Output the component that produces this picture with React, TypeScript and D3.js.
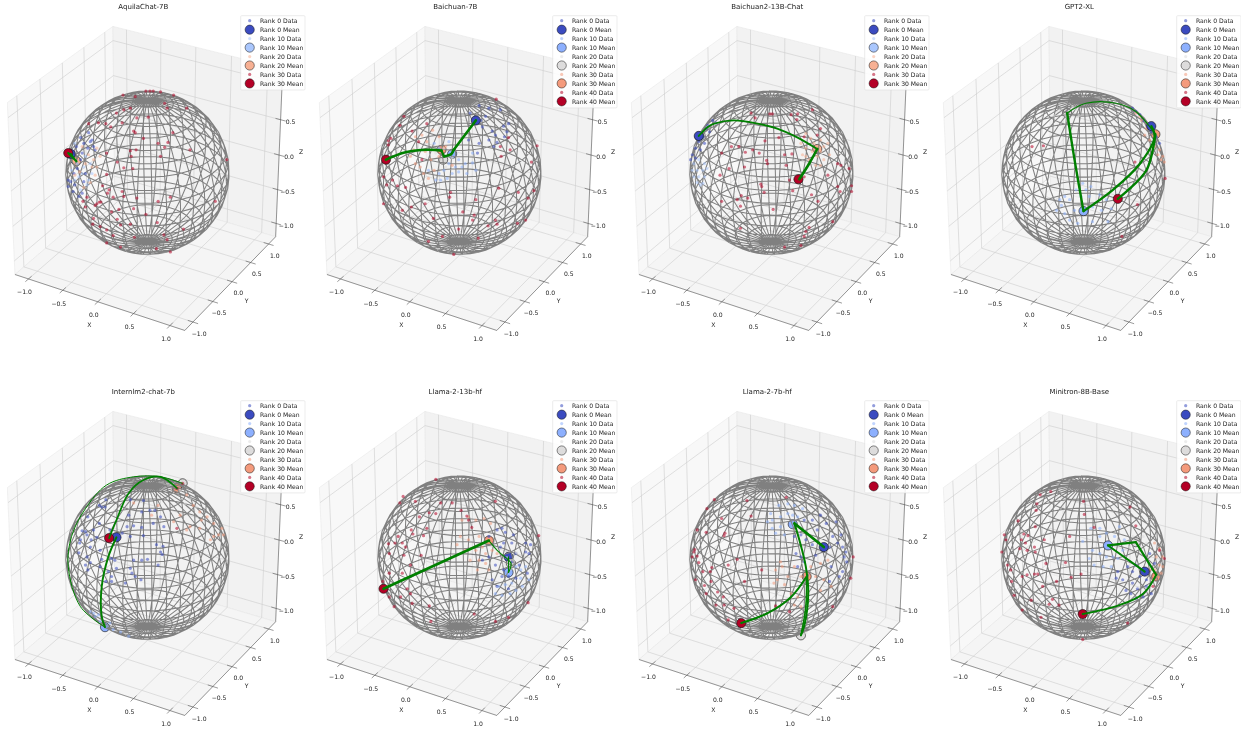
import React from "react";
import * as d3 from "d3";

type Pt = [number, number];

// Every point below: [right, up] on the sphere's disc, in percent of its radius.
const ranks4 = ["Rank 0", "Rank 10", "Rank 20", "Rank 30"];
const ranks5 = ["Rank 0", "Rank 10", "Rank 20", "Rank 30", "Rank 40"];
const colors4 = ["#3b4cc0", "#aac7fd", "#f7b093", "#b40426"];
const colors5 = ["#3b4cc0", "#8db0fe", "#dddcdc", "#f49a7b", "#b40426"];
const ticks = [-1, -0.5, 0, 0.5, 1];
const titles = ["AquilaChat-7B", "Baichuan-7B", "Baichuan2-13B-Chat", "GPT2-XL", "Internlm2-chat-7b", "Llama-2-13b-hf", "Llama-2-7b-hf", "Minitron-8B-Base"];

// AquilaChat-7B
const aquilaR0: Pt[] = [[-72,49],[-82,43],[-70,38],[-78,36],[-87,32],[-73,30],[-66,32],[-93,20],[-82,16],[-86,5],[-97,-9],[-94,-11],[-89,-15],[-78,-11],[-91,-23],[-80,-25],[-97,-17],[-84,-29],[-76,-1],[-68,40],[-64,28],[-90,-1],[-80,24]];
const aquilaR10: Pt[] = [[-89,36],[-76,20],[-70,11],[-86,11],[-80,-1],[-72,-9],[-84,-5],[-93,3],[-78,7],[-68,-1],[-89,-9],[-82,-21],[-74,-15]];
const aquilaR20: Pt[] = [[-62,30],[-66,16],[-72,22],[-64,-3],[-83,1],[-76,11],[-58,20],[-68,7],[-62,7],[-80,32],[-89,-3],[-70,-12],[-78,-18]];
const aquilaR30: Pt[] = [[-30,95],[-2,100],[3,100],[7,100],[16,99],[32,95],[-15,93],[21,85],[48,79],[24,79],[-21,79],[1,68],[-38,73],[-29,77],[-13,67],[-45,56],[-51,60],[-60,61],[-72,60],[-31,61],[-17,51],[-15,49],[-5,42],[31,49],[13,36],[21,31],[25,37],[52,28],[-50,24],[-21,27],[-14,28],[-20,20],[16,20],[-37,13],[-29,6],[-18,5],[97,16],[-50,-2],[-55,-16],[-47,-21],[-49,-25],[-31,-23],[-29,-29],[-42,-30],[-13,-31],[13,-35],[28,-30],[83,-35],[-62,-38],[-59,-36],[-57,-36],[-74,-30],[-79,-35],[-76,-42],[-64,-40],[-35,-45],[-17,-44],[-2,-51],[-44,-48],[-66,-56],[-37,-57],[-67,-63],[-58,-66],[-50,-70],[-33,-64],[-21,-63],[12,-61],[44,-69],[-42,-77],[-16,-79],[20,-76],[24,-82],[-50,-86],[-33,-91],[11,-93],[28,-97]];
const aquilaMeans: Pt[] = [[-94,23],[-89,16],[-87,14],[-97,24]];
const aquilaPath: Pt[][] = [[[-94,23],[-89,16],[-87,14],[-97,24]]];
const aquilaWidths = [2.2];
const aquilaBack = [1, 2];

// Baichuan-7B
const baichuan7R0: Pt[] = [[24,82],[36,79],[50,77],[13,73],[26,64],[28,56],[40,51],[54,57],[60,60],[58,50],[44,46],[36,40],[24,36],[46,37],[42,32],[55,44],[32,69],[22,24],[11,40]];
const baichuan7R10: Pt[] = [[-31,36],[-25,30],[-13,38],[-1,16],[7,11],[16,12],[9,-1],[3,7],[-5,7],[-13,11],[-19,3],[-25,-1],[-29,-9],[-23,-9],[-15,-7],[-1,1],[-9,-1],[-38,3],[16,24],[20,3]];
const baichuan7R20: Pt[] = [[-23,16],[-13,20],[-19,30],[-29,24],[-9,18],[-17,7]];
const baichuan7R30: Pt[] = [[-54,44],[-46,46],[-40,38],[-56,28],[-60,20],[-54,11],[-48,7],[-44,-1],[-38,-7],[-31,3],[-25,44],[-17,32],[-25,20],[-35,16],[-9,9],[-33,52],[-42,26]];
const baichuan7R40: Pt[] = [[45,90],[-68,69],[-58,51],[-40,60],[-73,58],[-84,42],[-87,39],[-87,34],[-50,38],[95,33],[88,13],[51,20],[62,28],[-93,-5],[-82,-9],[-89,-15],[-76,-16],[-66,-18],[-46,16],[-11,-24],[-12,-30],[20,-33],[48,-19],[72,-24],[91,-22],[84,-31],[-93,-38],[-59,-42],[-42,-38],[-32,-56],[4,-48],[18,-52],[16,-58],[-1,-69],[44,-58],[35,-65],[46,-63],[71,-62],[81,-58],[-21,-78],[23,-80],[-7,-100],[-38,-84],[-70,-46],[50,32],[60,43]];
const baichuan7Means: Pt[] = [[20,64],[-9,23],[-20,16],[-22,28],[-90,16]];
const baichuan7Path: Pt[][] = [[[20,64],[-7,28]],[[-7,28],[-10,23],[-19,20]],[[-19,20],[-22,27]],[[-22,27],[-38,28],[-66,25],[-90,16]]];
const baichuan7Widths = [2.6, 2.6, 2.4, 2.6];
const baichuan7Back = [1, 2, 3];

// Baichuan2-13B-Chat
const baichuan13R0: Pt[] = [[-72,64],[-80,54],[-76,50],[-84,44],[-89,38],[-82,36],[-93,30],[-87,28],[-97,22],[-99,16],[-93,18],[-68,61],[-78,58]];
const baichuan13R10: Pt[] = [[-95,11],[-89,16],[-82,11],[-97,3],[-91,3],[-84,3],[-79,5],[-95,-5],[-89,-5],[-82,-5],[-91,-12],[-84,-13],[-87,-15]];
const baichuan13R20: Pt[] = [[42,48],[48,42],[60,40],[64,32],[36,36],[42,30],[50,26],[56,20],[64,16],[71,22],[38,22],[46,16],[54,9],[60,9],[69,36],[60,26],[52,36],[42,20]];
const baichuan13R30: Pt[] = [[50,77],[32,72],[24,71],[-2,72],[1,72],[-25,73],[-20,67],[31,65],[60,54],[40,44],[56,46],[9,43],[-8,39],[-40,32],[-49,32],[-32,25],[-23,28],[-15,24],[-6,15],[-5,11],[16,22],[25,23],[18,9],[-33,7],[-52,5],[-61,24],[-63,-3],[40,-5],[22,-9],[26,-22],[49,-27],[57,-35],[69,-3],[81,11],[85,9],[95,5],[81,-17],[84,-23],[98,-16],[98,-23],[-13,-14],[-12,-17],[-9,-24],[-37,-28],[-29,-31],[-42,-33],[-38,-41],[-61,-35],[2,-45],[75,-60],[46,-67],[42,-72],[-38,-68],[40,-78],[16,-91],[36,-89]];
const baichuan13Means: Pt[] = [[-89,45],[-88,44],[56,29],[33,-8]];
const baichuan13Path: Pt[][] = [[[-89,45],[-78,56],[-70,60],[-46,64],[-17,60],[7,54],[32,43],[56,29]],[[56,29],[46,11],[34,-8]]];
const baichuan13Widths = [1.9, 2.6];
const baichuan13Back = [1, 2];

// GPT2-XL
const gptR0: Pt[] = [[60,79],[64,75],[73,64],[79,58],[83,50],[89,44],[93,36],[69,71]];
const gptR10: Pt[] = [[-1,-13],[9,-17],[-9,-21],[-23,-29],[-29,-33],[-17,-33],[-3,-29],[7,-29],[20,-27],[28,-33],[34,-44],[22,-46],[11,-42],[-11,-46],[-23,-50],[-33,-46],[-17,-58],[-7,-62],[11,-60],[30,-60],[-27,-40],[3,-21]];
const gptR20: Pt[] = [[-29,77],[-9,77],[-21,69],[-13,81],[-36,70],[-5,70]];
const gptR30: Pt[] = [[64,73],[71,64],[77,54],[75,46],[81,40],[87,32],[93,28],[97,20],[99,13],[91,22],[95,16],[69,69]];
const gptR40: Pt[] = [[-63,32],[-49,33],[63,13],[100,-7],[66,-39],[47,-78]];
const gptMeans: Pt[] = [[83,57],[0,-47],[-20,73],[88,47],[42,-32]];
const gptPath: Pt[][] = [[[83,57],[87,44],[69,11],[36,-21],[0,-47]],[[0,-47],[-11,16],[-20,73]],[[-20,73],[3,85],[40,85],[64,75],[88,47]],[[88,47],[77,3],[42,-32]]];
const gptWidths = [2.3, 2.4, 1.2, 2.4];
const gptBack = [2, 3];

// Internlm2-chat-7b
const internR0: Pt[] = [[-59,64],[-51,71],[-56,62],[-52,62],[-73,50],[-59,42],[-66,34],[-80,33],[-76,32],[-74,28],[-82,22],[-62,25],[-69,22],[-70,13],[-83,18],[-58,9],[-84,6],[-74,1],[-70,-6],[-76,-9],[-73,-15],[-56,-2],[-44,-1],[-40,-3],[-58,-11],[-48,-17],[-38,-13],[-44,-23],[-51,-29],[-44,-29],[-27,-31],[-21,-13],[-19,-19],[-15,-23],[-8,-27],[-17,-3],[-7,-3],[0,-2],[11,16],[19,14],[16,7],[18,4],[13,-9],[-21,71],[-5,70],[-7,56],[3,58],[9,58],[16,50],[20,38],[7,42],[-7,37],[-17,39],[-23,52],[-25,38],[-21,26],[-5,27],[-31,30],[-46,34]];
const internR10: Pt[] = [[-70,-66],[-64,-72],[-58,-78],[-50,-84],[-42,-88],[-33,-91],[-23,-96],[-60,-70],[-66,-68],[-46,-80]];
const internR20: Pt[] = [[40,82],[52,72],[30,90],[46,66],[60,62]];
const internR30: Pt[] = [[48,77],[56,64],[64,56],[73,50],[81,42],[91,36],[93,28],[87,28],[77,22],[66,46],[40,52],[32,44],[48,34],[13,64],[-17,67],[5,52],[64,36],[81,26],[52,38]];
const internR40: Pt[] = [[36,36],[36,85],[43,91]];
const internMeans: Pt[] = [[-38,25],[-52,-85],[43,91],[36,85],[-47,24]];
const internPath: Pt[][] = [[[-38,25],[-48,1],[-56,-35],[-56,-72],[-52,-85]],[[-52,-85],[-82,-60],[-97,-11],[-93,26],[-76,60],[-50,89],[-17,99],[16,99],[43,91]],[[36,85],[16,99],[-5,95],[-23,79],[-38,46],[-47,24]]];
const internWidths = [1.9, 1, 1.7];
const internBack = [1, 2, 3];

// Llama-2-13b-hf
const llama13R0: Pt[] = [[36,26],[46,34],[56,31],[66,28],[81,18],[87,16],[64,18],[54,18],[50,13],[58,3],[69,5],[81,7],[85,5],[64,-5],[73,-9],[36,1],[28,-3],[44,-9],[54,-15],[40,-27],[52,-23],[60,-23],[69,-25],[83,-19],[60,-38],[46,-35],[52,36]];
const llama13R10: Pt[] = [[48,-35],[56,-33],[64,-31],[75,-25],[81,-11],[75,-15],[44,-44],[52,-46],[69,-40],[77,-35],[62,-44],[69,-11],[85,-27]];
const llama13R20: Pt[] = [[58,0],[66,-3],[54,-8],[62,-14],[70,6]];
const llama13R30: Pt[] = [[3,46],[11,50],[20,46],[30,48],[38,42],[1,26],[-3,16],[7,9],[11,22],[24,26],[28,13],[20,9],[24,-3],[32,5],[40,9],[13,-3],[22,-15],[32,-7],[36,-15],[46,5]];
const llama13R40: Pt[] = [[-29,96],[-69,75],[-73,67],[-54,69],[-23,67],[-9,67],[2,58],[44,69],[-37,55],[-29,54],[-49,50],[-59,34],[-40,36],[-44,27],[-57,29],[-75,26],[-70,18],[-87,17],[-79,18],[-66,13],[-68,3],[-86,5],[-47,3],[-60,-9],[-94,-29],[-95,-35],[-86,-48],[-80,-60],[-72,-48],[-58,-56],[-64,-38],[-60,-44],[-37,-59],[-35,-78],[18,-69],[44,-78],[60,-73],[11,46],[15,37],[9,51],[97,27],[84,-55],[-70,-19],[-86,-19]];
const llama13Means: Pt[] = [[60,1],[60,-18],[63,-7],[36,21],[-93,-38]];
const llama13Path: Pt[][] = [[[60,1],[60,-18]],[[60,-18],[63,-7],[48,7],[36,21]],[[36,21],[-93,-38]]];
const llama13Widths = [1.1, 1.1, 2.7];
const llama13Back = [0, 1, 2, 3];

// Llama-2-7b-hf
const llama7R0: Pt[] = [[79,44],[67,42],[60,52],[50,46],[40,46],[56,34],[75,26],[85,28],[81,18],[71,13],[87,13],[91,7],[89,1],[92,-5],[28,26],[36,28],[30,5],[42,22],[36,1],[50,16],[54,3],[32,-11],[40,-5],[71,-29],[83,-23],[87,-17],[73,-11]];
const llama7R10: Pt[] = [[-1,54],[9,64],[20,66],[28,64],[38,60],[-5,44],[1,46],[11,50],[20,54],[26,52],[1,36],[11,38],[16,28],[5,30],[24,38],[32,50]];
const llama7R20: Pt[] = [[30,-90],[42,-92],[36,-84],[24,-86],[48,-86]];
const llama7R30: Pt[] = [[11,-5],[5,-15],[13,-11],[20,-23],[7,-27],[16,-33],[28,-11],[36,-23],[48,-11],[60,-7],[69,-3],[54,-23],[64,-27],[60,-40],[44,-44],[32,-48],[24,-44],[36,-60],[28,-58],[73,-35],[3,-31]];
const llama7R40: Pt[] = [[-70,71],[-79,60],[-61,48],[-57,30],[-58,27],[-30,70],[-25,51],[18,74],[-91,34],[-80,31],[-94,10],[-95,7],[-91,2],[-89,-6],[-84,-17],[-73,-12],[-75,-17],[-53,-9],[-42,-2],[-12,-15],[-33,-29],[-93,-27],[-82,-34],[-80,-44],[-74,-29],[-66,-42],[-59,-48],[-46,-62],[-58,-58],[-68,-58],[-53,-76],[5,-59],[22,-66],[100,1],[97,-25],[75,-60],[-97,1]];
const llama7Means: Pt[] = [[64,13],[26,41],[36,-95],[43,-23],[-37,-80]];
const llama7Path: Pt[][] = [[[64,13],[28,42]],[[28,42],[34,22],[42,-11],[45,-44],[40,-84],[36,-95]],[[36,-95],[42,-60],[43,-23]],[[43,-23],[24,-48],[-5,-68],[-37,-80]]];
const llama7Widths = [2.6, 2, 1.6, 2];
const llama7Back = [1, 2, 3];

// Minitron-8B-Base
const minitronR0: Pt[] = [[42,-17],[54,-11],[60,-17],[69,-23],[48,-27],[40,-25],[60,-31],[66,-38],[52,-40],[77,-35],[83,-44],[73,-48],[58,-44],[64,-50],[77,-27],[87,-7],[64,-9],[81,5]];
const minitronR10: Pt[] = [[-1,20],[9,36],[20,36],[44,38],[28,30],[38,26],[11,9],[7,-1],[20,5],[28,1],[36,1],[13,-9],[24,-11],[34,-11],[42,-1],[48,9],[20,26],[50,22]];
const minitronR20: Pt[] = [[60,26],[69,13],[73,26],[56,13],[77,18]];
const minitronR30: Pt[] = [[87,18],[93,11],[89,1],[97,1],[93,-9],[87,-15],[97,-11],[85,-27],[91,-23],[81,-15],[95,-19]];
const minitronR40: Pt[] = [[-53,77],[-40,81],[0,69],[57,62],[-57,66],[-58,58],[-80,45],[1,53],[64,39],[-59,38],[-48,22],[-17,26],[-73,29],[-68,27],[-76,22],[-97,28],[-95,22],[-71,18],[-78,11],[-69,9],[-60,13],[-59,7],[-100,7],[-46,-7],[-22,-6],[-93,-9],[-89,-15],[-60,-20],[-56,-20],[-88,-29],[-69,-21],[-75,-23],[-50,-35],[-33,-29],[-15,-24],[-3,-20],[-85,-46],[-64,-52],[-38,-51],[-42,-57],[-30,-58],[-75,-64],[-52,-73],[54,-80],[-1,-100],[13,37],[93,9],[99,-1],[85,-35]];
const minitronMeans: Pt[] = [[75,-17],[30,15],[64,19],[89,-23],[-1,-69]];
const minitronPath: Pt[][] = [[[75,-17],[30,15]],[[30,15],[64,19]],[[64,19],[89,-21]],[[89,-21],[73,-44],[44,-58],[-1,-69]]];
const minitronWidths = [2, 2.2, 2.2, 2];
const minitronBack = [2, 3];

const panels = [
  { title: titles[0], ranks: ranks4, colors: colors4, data: [aquilaR0, aquilaR10, aquilaR20, aquilaR30], means: aquilaMeans, path: aquilaPath, widths: aquilaWidths, back: aquilaBack },
  { title: titles[1], ranks: ranks5, colors: colors5, data: [baichuan7R0, baichuan7R10, baichuan7R20, baichuan7R30, baichuan7R40], means: baichuan7Means, path: baichuan7Path, widths: baichuan7Widths, back: baichuan7Back },
  { title: titles[2], ranks: ranks4, colors: colors4, data: [baichuan13R0, baichuan13R10, baichuan13R20, baichuan13R30], means: baichuan13Means, path: baichuan13Path, widths: baichuan13Widths, back: baichuan13Back },
  { title: titles[3], ranks: ranks5, colors: colors5, data: [gptR0, gptR10, gptR20, gptR30, gptR40], means: gptMeans, path: gptPath, widths: gptWidths, back: gptBack },
  { title: titles[4], ranks: ranks5, colors: colors5, data: [internR0, internR10, internR20, internR30, internR40], means: internMeans, path: internPath, widths: internWidths, back: internBack },
  { title: titles[5], ranks: ranks5, colors: colors5, data: [llama13R0, llama13R10, llama13R20, llama13R30, llama13R40], means: llama13Means, path: llama13Path, widths: llama13Widths, back: llama13Back },
  { title: titles[6], ranks: ranks5, colors: colors5, data: [llama7R0, llama7R10, llama7R20, llama7R30, llama7R40], means: llama7Means, path: llama7Path, widths: llama7Widths, back: llama7Back },
  { title: titles[7], ranks: ranks5, colors: colors5, data: [minitronR0, minitronR10, minitronR20, minitronR30, minitronR40], means: minitronMeans, path: minitronPath, widths: minitronWidths, back: minitronBack },
];

// Camera of a default matplotlib 3D axes: elev 30, azim -60, equal box, limits +-1.2
const LIM = 1.2, HALF = 0.55, DIST = 10, SCALE = 1782;
const elev = (30 * Math.PI) / 180, azim = (-60 * Math.PI) / 180;
const U = [-Math.sin(azim), Math.cos(azim), 0];
const V = [-Math.sin(elev) * Math.cos(azim), -Math.sin(elev) * Math.sin(azim), Math.cos(elev)];
const W = [Math.cos(elev) * Math.cos(azim), Math.cos(elev) * Math.sin(azim), Math.sin(elev)];
const CX = 147.5, CY = 172.7, RADIUS = 81.7;
const sx = d3.scaleLinear().domain([0, 1]).range([CX, CX + SCALE]);
const sy = d3.scaleLinear().domain([0, 1]).range([CY, CY - SCALE]);
const world = d3.scaleLinear().domain([-LIM, LIM]).range([-HALF, HALF]);
const dot = (a: number[], b: number[]) => a[0] * b[0] + a[1] * b[1] + a[2] * b[2];
const project = (x: number, y: number, z: number): Pt => {
  const p = [world(x), world(y), world(z)];
  const d = DIST - dot(p, W);
  return [sx(dot(p, U) / d), sy(dot(p, V) / d)];
};
const discX = d3.scaleLinear().domain([-100, 100]).range([CX - RADIUS, CX + RADIUS]);
const discY = d3.scaleLinear().domain([-100, 100]).range([CY + RADIUS, CY - RADIUS]);

const straight = d3.line<Pt>();
const arc = d3.line<Pt>().x((d) => discX(d[0])).y((d) => discY(d[1])).curve(d3.curveCatmullRom.alpha(0.5));
const poly = (pts: number[][]) => straight(pts.map((p) => project(p[0], p[1], p[2])))!;

// Wireframe sphere
const MERIDIANS = 36, PARALLELS = 20;
const lonSteps = d3.range(MERIDIANS + 1).map((i) => (i * 2 * Math.PI) / MERIDIANS + Math.PI / 60);
const latSteps = d3.range(PARALLELS + 1).map((i) => (i * Math.PI) / PARALLELS);
const wirePath = [
  ...lonSteps.map((lo) => poly(latSteps.map((v) => [Math.cos(lo) * Math.sin(v), Math.sin(lo) * Math.sin(v), Math.cos(v)]))),
  ...latSteps.slice(1, -1).map((v) => poly(lonSteps.map((lo) => [Math.cos(lo) * Math.sin(v), Math.sin(lo) * Math.sin(v), Math.cos(v)]))),
].join("");

const fmt = (t: number) => (t < 0 ? "\u2212" : "") + Math.abs(t).toFixed(1);
const FONT = "'DejaVu Sans', sans-serif";
const TXT = "#222";
const TICK = 0.07;
const POINT_R = 1.6;

const Axes3D = () => (
  <g>
    <path d={poly([[-LIM,-LIM,-LIM],[-LIM,LIM,-LIM],[-LIM,LIM,LIM],[-LIM,-LIM,LIM]]) + "Z"} fill="#f8f8f8" stroke="#e4e4e4" strokeWidth={0.5} />
    <path d={poly([[-LIM,LIM,-LIM],[LIM,LIM,-LIM],[LIM,LIM,LIM],[-LIM,LIM,LIM]]) + "Z"} fill="#f2f2f2" stroke="#e4e4e4" strokeWidth={0.5} />
    <path d={poly([[-LIM,-LIM,-LIM],[LIM,-LIM,-LIM],[LIM,LIM,-LIM],[-LIM,LIM,-LIM]]) + "Z"} fill="#f5f5f5" stroke="#e4e4e4" strokeWidth={0.5} />
    <g fill="none" stroke="#cdcdcd" strokeWidth={0.6}>
      {ticks.map((t) => (
        <g key={t}>
          <path d={poly([[t,-LIM,-LIM],[t,LIM,-LIM],[t,LIM,LIM]])} />
          <path d={poly([[LIM,t,-LIM],[-LIM,t,-LIM],[-LIM,t,LIM]])} />
          <path d={poly([[-LIM,-LIM,t],[-LIM,LIM,t],[LIM,LIM,t]])} />
        </g>
      ))}
    </g>
    <g fill="none" stroke="#555" strokeWidth={0.6}>
      <path d={poly([[-LIM,-LIM,-LIM],[LIM,-LIM,-LIM],[LIM,LIM,-LIM],[LIM,LIM,LIM]])} />
      {ticks.map((t) => (
        <g key={t}>
          <path d={poly([[t,-LIM-TICK,-LIM],[t,-LIM+TICK,-LIM]])} />
          <path d={poly([[LIM+TICK,t,-LIM],[LIM-TICK,t,-LIM]])} />
          <path d={poly([[LIM+TICK,LIM,t],[LIM-TICK,LIM,t]])} />
        </g>
      ))}
    </g>
    <g fontFamily={FONT} fontSize={6.1} fill={TXT} textAnchor="middle" dominantBaseline="central">
      {ticks.map((t) => {
        const a = project(t, -LIM, -LIM), b = project(LIM, t, -LIM), c = project(LIM, LIM, t);
        return (
          <g key={t}>
            <text x={a[0] - 4} y={a[1] + 13}>{fmt(t)}</text>
            <text x={b[0] + 6.2} y={b[1] + 11}>{fmt(t)}</text>
            {t < 1 && <text x={c[0] + 10} y={c[1] + 1.8}>{fmt(t)}</text>}
          </g>
        );
      })}
      <text x={89.3} y={324.3}>X</text>
      <text x={246.7} y={300}>Y</text>
      <text x={301} y={151.7}>Z</text>
    </g>
  </g>
);

const Legend = ({ ranks, colors }: { ranks: string[]; colors: string[] }) => {
  const rows = ranks.flatMap((r, i) => [
    { label: r + " Data", color: colors[i], mean: false },
    { label: r + " Mean", color: colors[i], mean: true },
  ]);
  const row = d3.scaleLinear().domain([0, 1]).range([20.7, 29.66]);
  return (
    <g>
      <rect x={240.7} y={15.7} width={64.3} height={rows.length * 8.96 + 2.6} rx={1} fill="#fff" fillOpacity={0.85} stroke="#d8d8d8" strokeWidth={0.5} />
      {rows.map((d, i) => (
        <g key={d.label}>
          {d.mean
            ? <circle cx={249.7} cy={row(i)} r={4.6} fill={d.color} stroke="#111" strokeWidth={0.5} />
            : <circle cx={249.7} cy={row(i)} r={POINT_R} fill={d.color} fillOpacity={0.55} />}
          <text x={260} y={row(i)} fontFamily={FONT} fontSize={6.1} fill={TXT} dominantBaseline="central">{d.label}</text>
        </g>
      ))}
    </g>
  );
};

const Panel = ({ p, i }: { p: (typeof panels)[number]; i: number }) => {
  const mean = (k: number) => (
    <circle key={k} cx={discX(p.means[k][0])} cy={discY(p.means[k][1])} r={4.6} fill={p.colors[k]} stroke="#111" strokeWidth={0.6} />
  );
  return (
    <g transform={`translate(${(i % 4) * 312},${Math.floor(i / 4) * 385})`}>
      <text x={143.3} y={6.7} textAnchor="middle" dominantBaseline="central" fontFamily={FONT} fontSize={7} fill={TXT}>{p.title}</text>
      <Axes3D />
      {p.back.map(mean)}
      <path d={wirePath} fill="none" stroke="#808080" strokeWidth={1.05} />
      {p.data.map((pts, k) => (
        <g key={k} fill={p.colors[k]} fillOpacity={0.55}>
          {pts.map((d, j) => <circle key={j} cx={discX(d[0])} cy={discY(d[1])} r={POINT_R} />)}
        </g>
      ))}
      {p.means.map((_, k) => (p.back.includes(k) ? null : mean(k)))}
      <g fill="none" stroke="#008000" strokeLinecap="round" strokeLinejoin="round">
        {p.path.map((seg, k) => <path key={k} d={arc(seg)!} strokeWidth={p.widths[k]} />)}
      </g>
      <Legend ranks={p.ranks} colors={p.colors} />
    </g>
  );
};

export default function App() {
  return (
    <svg width={1246} height={731} viewBox="0 0 1246 731" style={{ position: "absolute", left: 0, top: 0, background: "#fff" }}>
      <defs>
        <filter id="soft" x="0" y="0" width="100%" height="100%"><feGaussianBlur stdDeviation={0.35} /></filter>
      </defs>
      <g filter="url(#soft)">
        {panels.map((p, i) => <Panel key={p.title} p={p} i={i} />)}
      </g>
    </svg>
  );
}
